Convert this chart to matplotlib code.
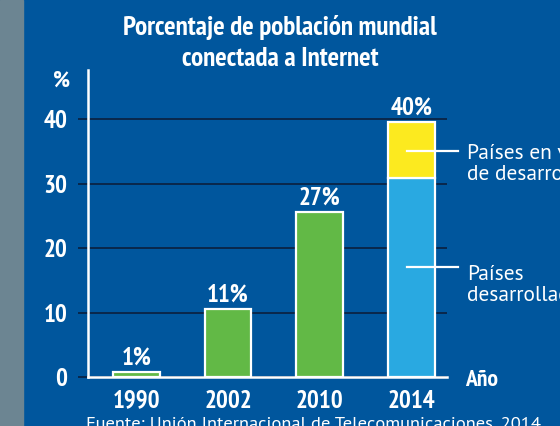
import matplotlib.pyplot as plt
from matplotlib.lines import Line2D
from matplotlib.patches import Rectangle

years = ["1990", "2002", "2010", "2014"]
totales = [0.8, 10.5, 25.6, 39.5]
desarrollados = [0, 0, 0, 30.8]
en_desarrollo = [0, 0, 0, 8.7]
etiquetas = ["1%", "11%", "27%", "40%"]
yticks = [0, 10, 20, 30, 40]

azul_fondo = "#00569d"
verde = "#62b946"
celeste = "#29a9e1"
amarillo = "#fcea1f"
grid_col = "#0c1f3d"

cond = ["PT Sans Narrow", "DejaVu Sans"]
regular = ["PT Sans", "DejaVu Sans"]
plt.rcParams["font.family"] = cond

fig = plt.figure(figsize=(5.6, 4.26), dpi=100)
fig.patch.set_facecolor(azul_fondo)
fig.add_artist(Rectangle((0, 0), 23 / 560, 1, transform=fig.transFigure,
                         color="#6c8592", zorder=0))

ax = fig.add_axes([88 / 560, 49 / 426, 359 / 560, 307 / 426])
ax.set_facecolor(azul_fondo)

x = list(range(len(years)))
w = 0.51
for i in range(3):
    ax.bar(x[i], totales[i], width=w, color=verde, edgecolor="white", linewidth=1.6, zorder=3)
ax.bar(x[3], desarrollados[3], width=w, color=celeste, edgecolor="white", linewidth=1.6, zorder=3)
ax.bar(x[3], en_desarrollo[3], bottom=desarrollados[3], width=w, color=amarillo,
       edgecolor="white", linewidth=1.6, zorder=3)

for i in x:
    ax.text(x[i], totales[i] + 0.4, etiquetas[i], ha="center", va="bottom",
            color="white", fontsize=18, fontweight="bold")

ax.set_xlim(-0.527, 3.386)
ax.set_ylim(0, 47.6)
ax.set_yticks(yticks)
ax.set_yticklabels([str(v) for v in yticks])
ax.set_xticks(x)
ax.set_xticklabels(years)
ax.grid(axis="y", color=grid_col, linewidth=1.2, zorder=1)
ax.tick_params(axis="y", length=7, color=grid_col, width=1.2, labelcolor="white",
               labelsize=18, pad=8)
ax.tick_params(axis="x", length=0, labelcolor="white", labelsize=18, pad=9)
for lab in ax.get_xticklabels() + ax.get_yticklabels():
    lab.set_fontweight("bold")

for s in ["top", "right"]:
    ax.spines[s].set_visible(False)
for s in ["left", "bottom"]:
    ax.spines[s].set_color("white")
    ax.spines[s].set_linewidth(1.8)
    ax.spines[s].set_zorder(4)

def px(xp, yp):
    return xp / 560, 1 - yp / 426

fig.text(*px(280, 43), "Porcentaje de población mundial\nconectada a Internet", ha="center",
         va="center", color="white", fontsize=19.5, fontweight="bold", linespacing=1.4)
fig.text(*px(62, 81), "%", ha="center", va="center", color="white", fontsize=17,
         fontweight="bold")
fig.text(*px(465, 381), "Año", ha="left", va="center", color="white", fontsize=17,
         fontweight="bold")

fig.add_artist(Line2D([407 / 560, 458 / 560], [1 - 151 / 426] * 2, color="white", lw=1.6))
fig.add_artist(Line2D([407 / 560, 458 / 560], [1 - 267 / 426] * 2, color="white", lw=1.6))
fig.text(*px(467, 164), "Países en vías\nde desarrollo", ha="left", va="center",
         color="white", fontsize=15.4, linespacing=1.1, family=regular)
fig.text(*px(467, 285), "Países\ndesarrollados", ha="left", va="center",
         color="white", fontsize=15.4, linespacing=1.1, family=regular)

fig.text(*px(86, 425), "Fuente: Unión Internacional de Telecomunicaciones, 2014",
         ha="left", va="center", color="white", fontsize=13.3, family=regular)

fig.savefig("out.png", dpi=100, facecolor=fig.get_facecolor())
